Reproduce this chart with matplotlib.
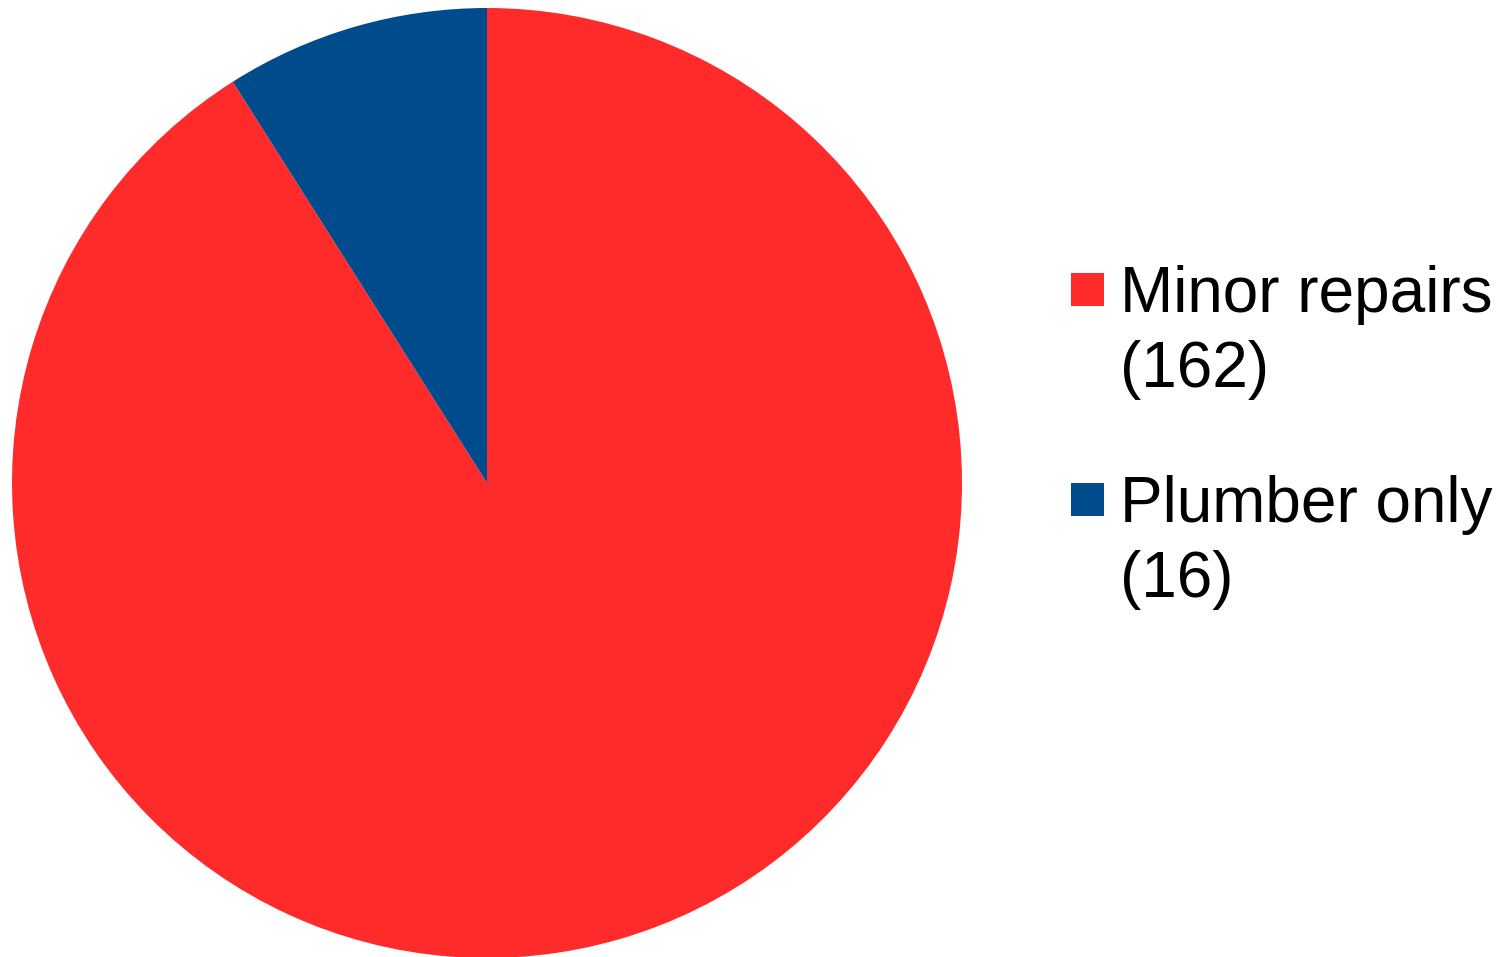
import matplotlib.pyplot as plt
from matplotlib.patches import Rectangle

plt.rcParams['font.family'] = ['Liberation Sans', 'DejaVu Sans']

# data
categories = ["Minor repairs", "Plumber only"]
counts = [162, 16]
colors = ["#FF2A2A", "#004B8C"]

W, H = 1505, 957
fig = plt.figure(figsize=(W / 100, H / 100), dpi=100)

# pie area (pixel geometry -> figure fraction)
cx, cy, r = 487, 483, 475
ax = fig.add_axes([(cx - r) / W, (H - cy - r) / H, 2 * r / W, 2 * r / H])
ax.pie(counts, colors=colors, startangle=90, counterclock=False,
       wedgeprops=dict(linewidth=0))
ax.set_xlim(-1, 1)
ax.set_ylim(-1, 1)
ax.set_aspect("equal")
ax.axis("off")

# legend drawn by hand: square + two-line label
entry_base = [312, 522]   # baseline of first label line, px from top
for name, n, col, yb in zip(categories, counts, colors, entry_base):
    sq_top = yb - 39
    fig.add_artist(Rectangle((1071 / W, (H - sq_top - 33) / H), 33 / W, 33 / H,
                             transform=fig.transFigure, color=col, lw=0))
    fig.text(1120 / W, (H - yb) / H, name, fontsize=46, va="baseline", ha="left")
    fig.text(1120 / W, (H - yb - 75) / H, f"({n})", fontsize=46,
             va="baseline", ha="left")

fig.savefig("out.png", dpi=100)
